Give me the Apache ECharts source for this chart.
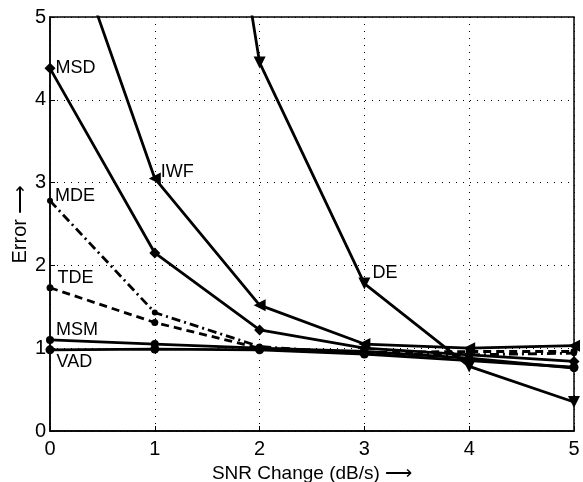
<!DOCTYPE html>
<html><head><meta charset="utf-8">
<script src="https://cdn.jsdelivr.net/npm/echarts@6/dist/echarts.min.js"></script>
<style>html,body{margin:0;padding:0;background:#fff}#c{width:583px;height:482px}</style>
</head><body><div id="c"></div>
<script>
const xValues = [0, 1, 2, 3, 4, 5];
const VAD = [0.98, 0.99, 0.98, 0.93, 0.85, 0.77];
const MSM = [1.10, 1.05, 1.00, 0.96, 0.88, 0.76];
const MSD = [4.38, 2.15, 1.22, 1.00, 0.92, 0.84];
const IWF = [6.66, 3.05, 1.52, 1.05, 1.00, 1.03];
const MDE = [2.78, 1.43, 1.02, 0.93, 0.92, 0.94];
const TDE = [1.73, 1.31, 1.00, 0.95, 0.96, 0.96];
const DE  = [null, 12.3, 4.45, 1.78, 0.78, 0.35];
const yTicks = [0, 1, 2, 3, 4, 5];

const font = 'Liberation Sans, Arial, sans-serif';
function mk(name, vals, symbol, size, rot, lineType, labelIdx, labelOffset) {
  return {
    name: name, type: 'line', clip: true,
    symbol: symbol, symbolSize: size, symbolRotate: rot,
    lineStyle: {color: '#000', width: 2.8, type: lineType},
    itemStyle: {color: '#000'},
    data: vals.map((v, i) => {
      const d = {value: [xValues[i], v]};
      if (i === labelIdx) {
        d.label = {show: true, formatter: name, position: 'right', distance: 0, offset: labelOffset,
          color: '#000', fontFamily: font, fontSize: 18};
      }
      return d;
    })
  };
}
const chart = echarts.init(document.getElementById('c'));
chart.setOption({
  animation: false,
  grid: {left: 50, right: 9, top: 17, bottom: 51, show: true, borderColor: '#000', borderWidth: 1.5,
    containLabel: false, outerBoundsMode: 'none'},
  xAxis: {
    type: 'value', min: 0, max: 5, interval: 1,
    name: 'SNR Change (dB/s) \u27f6', nameLocation: 'middle', nameGap: 33, nameMoveOverlap: false,
    nameTextStyle: {color: '#000', fontFamily: font, fontSize: 19},
    axisLine: {lineStyle: {color: '#000', width: 1.5}},
    axisTick: {inside: true, length: 5, lineStyle: {color: '#000'}},
    axisLabel: {color: '#000', fontFamily: font, fontSize: 20, margin: 8},
    splitLine: {show: true, lineStyle: {color: '#000', type: [1, 6], width: 1}}
  },
  yAxis: {
    type: 'value', min: 0, max: 5, interval: 1,
    name: 'Error \u27f6', nameLocation: 'middle', nameGap: 20, nameMoveOverlap: false,
    nameTextStyle: {color: '#000', fontFamily: font, fontSize: 20},
    axisLine: {lineStyle: {color: '#000', width: 1.5}},
    axisTick: {inside: true, length: 5, lineStyle: {color: '#000'}},
    axisLabel: {color: '#000', fontFamily: font, fontSize: 20, margin: 4,
      formatter: v => yTicks.includes(v) ? String(v) : ''},
    splitLine: {show: true, lineStyle: {color: '#000', type: [1, 6], width: 1}}
  },
  series: [
    mk('VAD', VAD, 'circle', 9, 0, 'solid', 0, [2, 12]),
    mk('MSM', MSM, 'circle', 8, 0, 'solid', 0, [2, -10]),
    mk('MSD', MSD, 'diamond', 11, 0, 'solid', 0, [0, 0]),
    mk('IWF', IWF, 'triangle', 12, 90, 'solid', 1, [0, -6]),
    mk('MDE', MDE, 'circle', 6, 0, [9, 4, 2, 4], 0, [2, -5]),
    mk('TDE', TDE, 'circle', 7, 0, [8, 5], 0, [4, -10]),
    mk('DE', DE, 'triangle', 12, 180, 'solid', 3, [2, -11])
  ]
});
</script></body></html>
